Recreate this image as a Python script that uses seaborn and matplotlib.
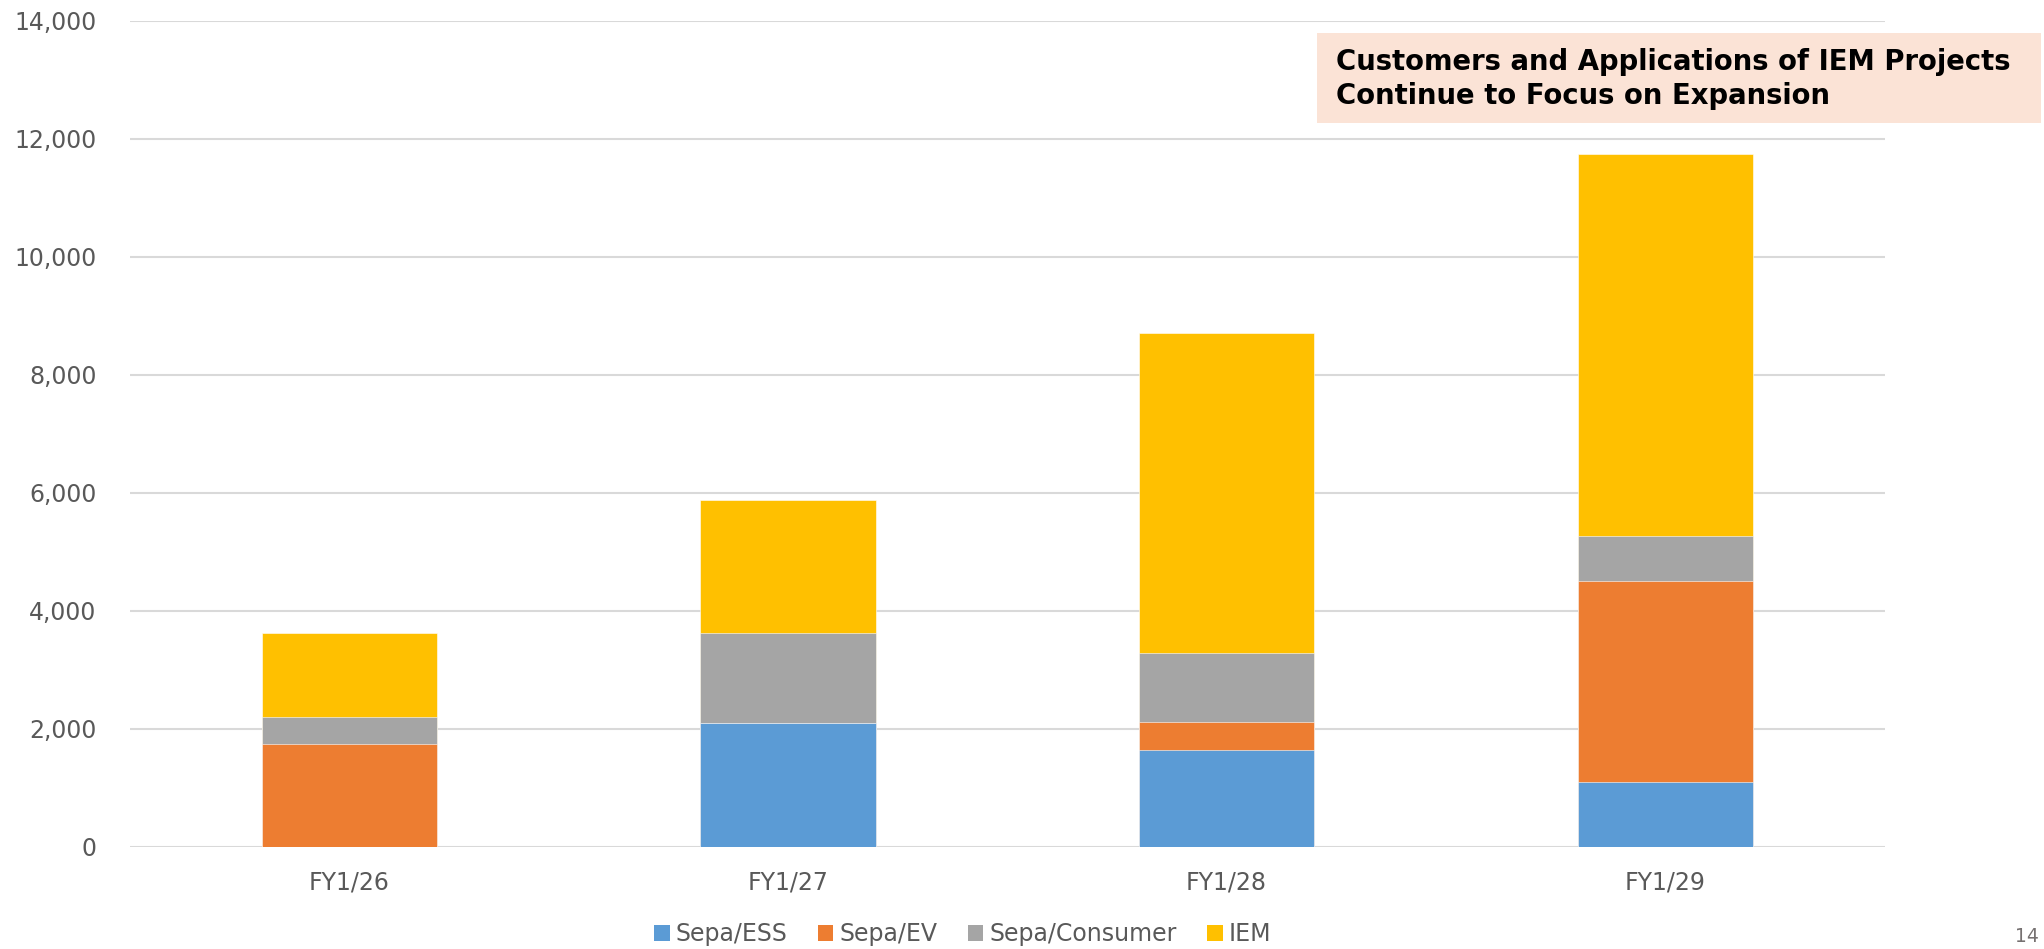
import pandas as pd
import numpy as np
import matplotlib
matplotlib.use("Agg")
import matplotlib.pyplot as plt
import seaborn as sns
from matplotlib.patches import Patch

# Datos
periodos = ["FY1/26", "FY1/27", "FY1/28", "FY1/29"]
sepa_ess = [0, 2100, 1640, 1100]
sepa_ev = [1750, 0, 480, 3400]
sepa_consumer = [455, 1530, 1170, 770]
iem = [1420, 2250, 5420, 6470]

series = ["Sepa/ESS", "Sepa/EV", "Sepa/Consumer", "IEM"]
colores = ["#5B9BD5", "#ED7D31", "#A5A5A5", "#FFC000"]

df = pd.DataFrame({"Periodo": periodos, "Sepa/ESS": sepa_ess, "Sepa/EV": sepa_ev,
                   "Sepa/Consumer": sepa_consumer, "IEM": iem})
# acumulados para apilar
acum = df[series].cumsum(axis=1)

sns.set_style("white")
plt.rcParams['font.family'] = ['DejaVu Sans']

fig = plt.figure(figsize=(20.44, 9.49), dpi=100)
ax = fig.add_axes([0.0636, 0.1075, 0.8584, 0.8705])

# dibujar de arriba hacia abajo para que se vea apilado
for serie, color in reversed(list(zip(series, colores))):
    sns.barplot(x=df["Periodo"], y=acum[serie], color=color, width=0.4,
                saturation=1, edgecolor="white", linewidth=0.4, ax=ax, zorder=3)

ax.set_ylim(0, 14000)
ax.set_xlim(-0.5, 3.5)
ax.set_yticks(np.arange(0, 14001, 2000))
ax.set_yticklabels([f"{v:,}" for v in range(0, 14001, 2000)])
ax.grid(axis="y", color="#D9D9D9", linewidth=1.5, zorder=0)
ax.set_axisbelow(True)
for s in ax.spines.values():
    s.set_visible(False)
ax.tick_params(axis="both", length=0, labelsize=17, colors="#595959")
ax.tick_params(axis="y", pad=24)
ax.tick_params(axis="x", pad=17)
ax.set_xlabel("")
ax.set_ylabel("")

# leyenda
handles = [Patch(facecolor=c, edgecolor="none", label=s) for s, c in zip(series, colores)]
fig.legend(handles=handles, loc="center", bbox_to_anchor=(0.471, 0.0155), ncol=4,
           frameon=False, fontsize=17, handlelength=0.65, handleheight=0.65,
           handletextpad=0.25, columnspacing=1.3, labelcolor="#595959")

# recuadro de título
fig.patches.append(plt.Rectangle((1317 / 2044, 1 - 123 / 949), 724 / 2044, 90 / 949,
                                 transform=fig.transFigure, facecolor="#FBE3D6",
                                 edgecolor="none", zorder=5))
fig.text(1336 / 2044, 1 - 62 / 949, "Customers and Applications of IEM Projects",
         fontsize=19.8, fontweight="bold", color="black", va="center", ha="left", zorder=6)
fig.text(1336 / 2044, 1 - 96 / 949, "Continue to Focus on Expansion",
         fontsize=19.8, fontweight="bold", color="black", va="center", ha="left", zorder=6)

# número de página
fig.text(2027 / 2044, 1 - 937 / 949, "14", fontsize=13.5, color="#767171",
         ha="center", va="center")

fig.savefig("out.png", dpi=100)
